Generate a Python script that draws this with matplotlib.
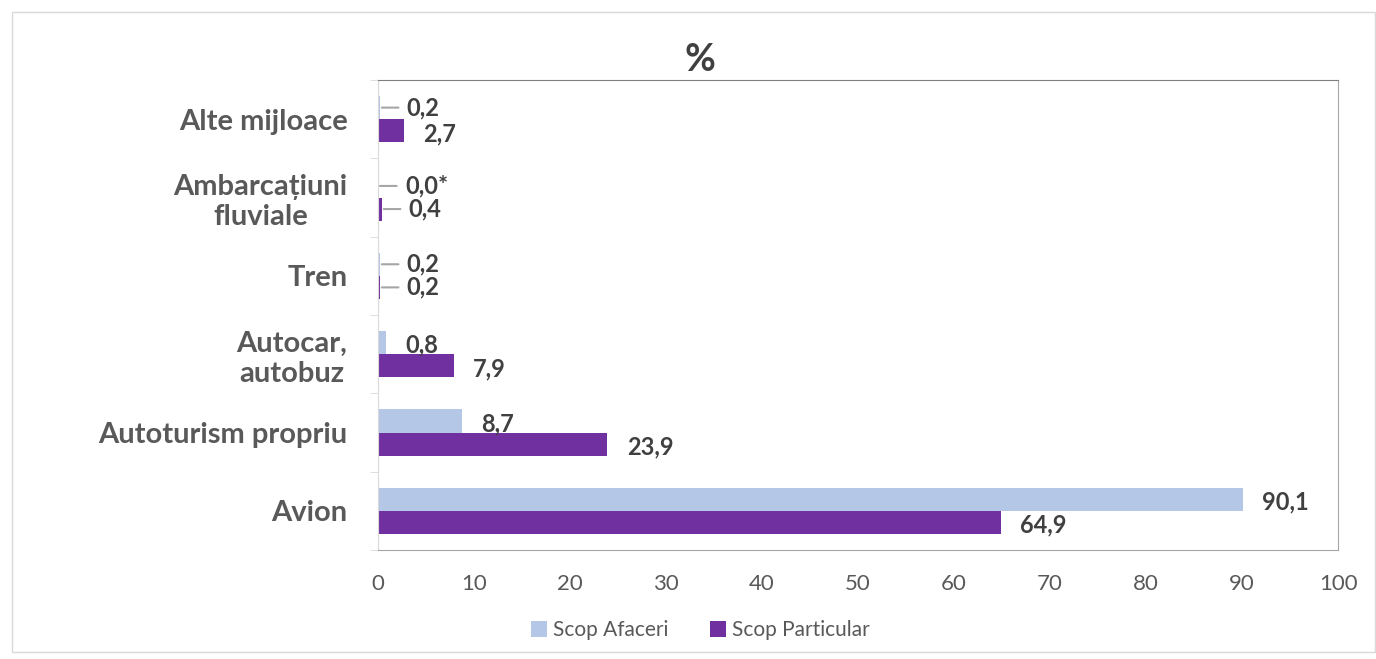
import matplotlib.pyplot as plt
import numpy as np
from matplotlib.patches import Rectangle

categories = ["Avion", "Autoturism propriu", "Autocar,\nautobuz", "Tren",
              "Ambarcațiuni\nfluviale", "Alte mijloace"]
afaceri = [90.1, 8.7, 0.8, 0.2, 0.0, 0.2]
particular = [64.9, 23.9, 7.9, 0.2, 0.4, 2.7]
afaceri_lbl = ["90,1", "8,7", "0,8", "0,2", "0,0*", "0,2"]
particular_lbl = ["64,9", "23,9", "7,9", "0,2", "0,4", "2,7"]

c_af = "#B4C7E7"
c_pa = "#7030A0"
txt = "#404040"
fam = ["Lato", "DejaVu Sans"]

fig = plt.figure(figsize=(13.76, 6.59), dpi=100)
ax = fig.add_axes([0.2747, 0.1654, 0.6977, 0.7132])

fig.patches.append(Rectangle((0.009, 0.01), 0.99, 0.972, transform=fig.transFigure,
                             fill=False, edgecolor="#D9D9D9", lw=1))

y = np.arange(len(categories))
h = 0.295
ax.barh(y + h / 2, afaceri, h, color=c_af, label="Scop Afaceri")
ax.barh(y - h / 2, particular, h, color=c_pa, label="Scop Particular")

ax.set_xlim(0, 100)
ax.set_ylim(-0.5, len(categories) - 0.5)
ax.set_xticks(range(0, 101, 10))
ax.set_yticks(y)
ax.set_yticklabels(categories, fontsize=21, fontweight="bold", color="#595959",
                   family=fam, multialignment="center")
ax.tick_params(axis="y", length=0, pad=22)
ax.set_yticks(np.arange(-0.5, len(categories)), minor=True)
ax.tick_params(axis="y", which="minor", length=6, color="#D9D9D9", direction="out")
ax.tick_params(axis="x", length=0, labelsize=16, labelcolor="#595959", pad=17)
for lab in ax.get_xticklabels():
    lab.set_family(fam)

for s in ["top", "right", "bottom"]:
    ax.spines[s].set_color("#A6A6A6")
ax.spines["top"].set_color("#808080")
ax.spines["left"].set_color("#D9D9D9")

# small values get a leader line, the rest a plain offset label
for i in range(len(categories)):
    for vals, lbls, off in ((afaceri, afaceri_lbl, h / 2), (particular, particular_lbl, -h / 2)):
        v = vals[i]
        yy = y[i] + off
        if v < 0.5:
            ax.annotate(lbls[i], xy=(v + 0.2, yy), xytext=(18, 0),
                        textcoords="offset points", va="center", ha="left",
                        fontsize=17, fontweight="bold", color=txt, family=fam,
                        arrowprops=dict(arrowstyle="-", color="#A6A6A6", lw=1.5,
                                        shrinkA=4, shrinkB=0, relpos=(0, 0.5)))
        else:
            ax.annotate(lbls[i], xy=(v, yy), xytext=(14, -2),
                        textcoords="offset points", va="center", ha="left",
                        fontsize=17, fontweight="bold", color=txt, family=fam)

fig.text(0.509, 0.909, "%", fontsize=27, fontweight="bold", color=txt, family=fam,
         ha="center", va="center")

leg = fig.legend(loc="lower center", bbox_to_anchor=(0.509, 0.0), ncol=2, frameon=False,
                 prop={"family": fam, "size": 15}, handlelength=0.75, handleheight=0.75,
                 columnspacing=2.0, handletextpad=0.3)
for t in leg.get_texts():
    t.set_color("#595959")

fig.savefig("out.png", dpi=100)
plt.close(fig)
